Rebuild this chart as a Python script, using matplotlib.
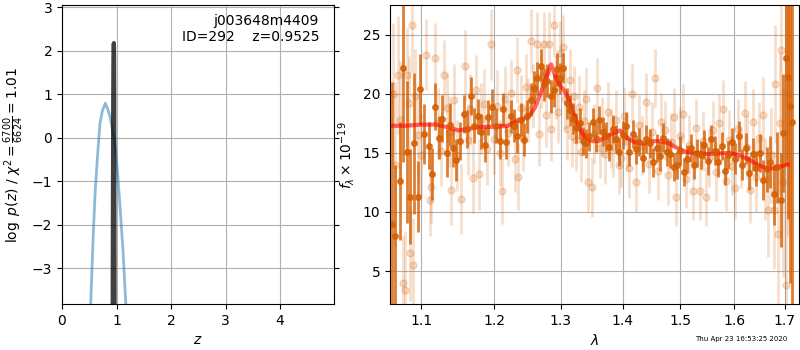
import numpy as np
import matplotlib
matplotlib.use('Agg')
import matplotlib.pyplot as plt
from matplotlib.ticker import NullLocator

# --- redshift probability (left panel) ---
z_coarse = [0.45, 0.527, 0.575, 0.61, 0.655, 0.697, 0.74, 0.795, 0.84,
            0.88, 0.925, 0.97, 1.02, 1.064, 1.12, 1.17, 1.25]
logp_coarse = [-6.0, -3.8, -2.17, -1.2, -0.35, 0.34, 0.62, 0.80, 0.66,
               0.49, 0.20, -0.11, -0.80, -1.57, -2.60, -3.80, -6.0]

z_fine = [0.928, 0.934, 0.939, 0.943, 0.947, 0.9525, 0.956, 0.959, 0.962,
          0.966]
logp_fine = [-4.5, -1.5, 0.8, 1.8, 2.15, 2.18, 1.9, 0.9, -1.5, -4.5]

# --- spectrum (right panel) ---
wave_dark = [1.062, 1.066, 1.072, 1.076, 1.081, 1.085, 1.090, 1.095, 1.098,
             1.104, 1.110, 1.114, 1.118, 1.124, 1.128, 1.134, 1.139, 1.143,
             1.147, 1.152, 1.157, 1.162, 1.167, 1.172, 1.177, 1.182, 1.187,
             1.192, 1.197, 1.203, 1.208, 1.213, 1.218, 1.224, 1.229, 1.234,
             1.239, 1.244, 1.249, 1.254, 1.259, 1.264, 1.269, 1.274, 1.279,
             1.284, 1.289, 1.294, 1.299, 1.304, 1.309, 1.314, 1.319, 1.324,
             1.330, 1.335, 1.340, 1.345, 1.351, 1.356, 1.361, 1.367, 1.372,
             1.378, 1.383, 1.389, 1.394, 1.400, 1.405, 1.411, 1.417, 1.422,
             1.428, 1.434, 1.440, 1.446, 1.452, 1.458, 1.464, 1.470, 1.476,
             1.482, 1.488, 1.494, 1.500, 1.506, 1.512, 1.519, 1.525, 1.531,
             1.538, 1.544, 1.550, 1.557, 1.563, 1.570, 1.576, 1.583, 1.589,
             1.596, 1.602, 1.609, 1.616, 1.622, 1.629, 1.636, 1.643, 1.650,
             1.657, 1.664, 1.671, 1.678, 1.685, 1.692, 1.697, 1.702, 1.706,
             1.710, 1.714]
flux_dark = [9.0, 8.0, 12.6, 22.2, 15.1, 11.3, 15.8, 11.3, 20.4,
             16.6, 15.6, 13.2, 18.9, 16.3, 17.9, 15.0, 17.4, 15.4,
             14.4, 16.0, 18.3, 17.0, 19.8, 17.3, 18.1, 16.8, 15.7,
             18.0, 18.9, 17.3, 16.0, 18.7, 15.9, 18.1, 17.3, 16.4,
             17.8, 16.1, 18.1, 19.5, 20.5, 21.3, 22.4, 20.8, 21.1,
             19.8, 20.3, 22.1, 21.3, 22.2, 19.2, 18.6, 17.9, 17.1,
             17.5, 16.0, 15.8, 16.4, 17.6, 16.3, 17.8, 16.8, 16.4,
             15.5, 17.0, 16.2, 15.1, 16.5, 17.3, 15.1, 16.6, 15.3,
             15.9, 14.6, 16.2, 15.8, 14.2, 15.4, 14.7, 16.3, 15.1,
             14.9, 13.8, 14.0, 15.2, 13.4, 14.5, 15.4, 14.0, 15.0,
             14.8, 15.7, 14.3, 16.2, 15.2, 14.2, 15.6, 13.5, 14.8,
             15.9, 14.5, 16.4, 14.0, 15.4, 13.3, 14.9, 13.7, 15.0,
             12.7, 13.6, 14.2, 11.5, 13.8, 11.0, 16.7, 23.0, 21.4,
             19.0, 17.6]
err_dark = [12.0, 6.0, 5.0, 8.0, 6.0, 4.0, 6.0, 3.0, 3.0,
            2.5, 2.0, 2.2, 2.0, 1.8, 2.0, 2.0, 1.8, 1.6,
            1.8, 1.6, 1.6, 1.6, 1.6, 1.5, 1.5, 1.5, 1.5,
            1.5, 1.5, 1.5, 1.5, 1.4, 1.4, 1.4, 1.4, 1.4,
            1.4, 1.4, 1.4, 1.4, 1.4, 1.4, 1.4, 1.4, 1.4,
            1.4, 1.4, 1.4, 1.3, 1.3, 1.3, 1.3, 1.3, 1.3,
            1.3, 1.2, 1.2, 1.2, 1.2, 1.2, 1.2, 1.2, 1.2,
            1.2, 1.2, 1.2, 1.2, 1.2, 1.2, 1.2, 1.2, 1.2,
            1.2, 1.2, 1.2, 1.2, 1.2, 1.2, 1.2, 1.2, 1.2,
            1.2, 1.2, 1.2, 1.2, 1.2, 1.2, 1.2, 1.2, 1.2,
            1.2, 1.2, 1.2, 1.2, 1.2, 1.2, 1.2, 1.2, 1.2,
            1.2, 1.3, 1.3, 1.3, 1.3, 1.4, 1.4, 1.5, 1.6,
            1.7, 1.9, 2.2, 2.6, 3.0, 4.0, 5.0, 9.0, 12.0,
            15.0, 20.0]

wave_light = [1.063, 1.066, 1.0696, 1.072, 1.076, 1.078, 1.081, 1.084, 1.0846,
              1.0877, 1.089, 1.092, 1.096, 1.100, 1.1066, 1.111, 1.113, 1.118,
              1.122, 1.126, 1.130, 1.134, 1.137, 1.140, 1.144, 1.148, 1.153,
              1.159, 1.163, 1.166, 1.170, 1.174, 1.178, 1.182, 1.186, 1.190,
              1.196, 1.200, 1.204, 1.208, 1.212, 1.216, 1.220, 1.225, 1.230,
              1.233, 1.235, 1.239, 1.243, 1.247, 1.250, 1.254, 1.258, 1.263,
              1.267, 1.270, 1.274, 1.277, 1.281, 1.285, 1.289, 1.292, 1.295,
              1.299, 1.303, 1.307, 1.310, 1.314, 1.318, 1.321, 1.324, 1.328,
              1.332, 1.336, 1.339, 1.343, 1.349, 1.353, 1.358, 1.362, 1.366,
              1.370, 1.375, 1.380, 1.384, 1.389, 1.393, 1.397, 1.402, 1.407,
              1.411, 1.416, 1.422, 1.427, 1.433, 1.439, 1.444, 1.450, 1.455,
              1.460, 1.466, 1.473, 1.478, 1.484, 1.488, 1.493, 1.499, 1.505,
              1.510, 1.516, 1.523, 1.529, 1.535, 1.541, 1.546, 1.552, 1.560,
              1.566, 1.572, 1.579, 1.585, 1.591, 1.596, 1.601, 1.607, 1.613,
              1.620, 1.625, 1.630, 1.636, 1.642, 1.648, 1.656, 1.661, 1.666,
              1.672, 1.679, 1.681, 1.686, 1.690, 1.693, 1.697, 1.702, 1.706]
flux_light = [20.0, 14.0, 21.6, 17.8, 4.0, 3.4, 21.6, 19.2, 6.5,
              25.8, 5.5, 19.8, 16.5, 14.8, 23.3, 11.0, 12.1, 23.0,
              17.5, 15.2, 21.6, 18.8, 16.8, 11.9, 19.5, 14.8, 11.1,
              22.4, 16.1, 18.7, 12.9, 20.3, 13.2, 17.9, 19.1, 15.3,
              24.2, 16.2, 19.0, 15.0, 11.8, 19.6, 16.7, 20.1, 14.5,
              22.0, 13.0, 18.8, 16.3, 20.6, 18.6, 24.5, 19.8, 24.2,
              16.6, 21.5, 24.2, 18.2, 24.2, 17.0, 25.8, 20.6, 18.5,
              23.5, 24.0, 19.6, 17.0, 21.2, 16.4, 19.8, 16.1, 18.9,
              15.1, 17.7, 19.6, 12.5, 12.1, 16.6, 20.5, 15.4, 17.2,
              14.9, 18.5, 16.2, 15.5, 17.8, 14.0, 14.6, 18.1, 16.0,
              13.7, 20.0, 12.5, 17.4, 15.6, 19.3, 14.1, 16.8, 21.3,
              13.5, 17.6, 16.9, 13.1, 15.9, 18.0, 11.3, 16.4, 18.3,
              12.8, 15.7, 11.8, 17.1, 11.8, 16.0, 11.3, 14.6, 16.9,
              13.4, 17.5, 18.7, 12.6, 16.1, 13.9, 12.0, 17.0, 14.6,
              18.4, 15.5, 11.9, 17.6, 13.0, 16.3, 18.2, 12.8, 10.2,
              14.8, 10.2, 20.8, 8.1, 17.5, 23.7, 12.5, 3.8, 20.0]
err_light = [6.0, 7.0, 5.0, 5.0, 4.0, 5.0, 4.0, 4.0, 4.0,
             4.0, 4.0, 4.0, 3.5, 3.5, 3.0, 3.0, 3.0, 3.0,
             3.0, 3.0, 3.0, 3.0, 3.0, 3.0, 3.0, 3.0, 3.0,
             3.0, 3.0, 3.0, 3.0, 3.0, 3.0, 3.0, 3.0, 3.0,
             3.0, 3.0, 3.0, 2.8, 2.8, 2.8, 2.8, 2.8, 2.8,
             2.8, 2.8, 2.8, 2.8, 2.8, 2.7, 2.7, 2.7, 2.7,
             2.7, 2.7, 2.7, 2.7, 2.7, 2.7, 2.7, 2.7, 2.7,
             2.7, 2.7, 2.6, 2.6, 2.6, 2.6, 2.6, 2.6, 2.6,
             2.6, 2.6, 2.6, 2.5, 2.5, 2.5, 2.5, 2.5, 2.5,
             2.5, 2.5, 2.5, 2.5, 2.5, 2.5, 2.5, 2.5, 2.5,
             2.5, 2.5, 2.5, 2.5, 2.5, 2.5, 2.5, 2.5, 2.5,
             2.5, 2.5, 2.5, 2.5, 2.5, 2.5, 2.5, 2.5, 2.5,
             2.5, 2.5, 2.5, 2.5, 2.5, 2.5, 2.5, 2.5, 2.5,
             2.5, 2.5, 2.5, 2.5, 2.5, 2.5, 2.6, 2.6, 2.6,
             2.7, 2.7, 2.8, 2.8, 3.0, 3.0, 3.2, 3.5, 4.0,
             4.0, 5.0, 5.0, 6.0, 6.0, 7.0, 8.0, 10.0, 12.0]

wave_model = [1.062, 1.08, 1.10, 1.12, 1.14, 1.15, 1.16, 1.18, 1.20, 1.22,
              1.235, 1.25, 1.26, 1.27, 1.278, 1.285, 1.29, 1.298, 1.305,
              1.312, 1.32, 1.33, 1.34, 1.35, 1.36, 1.37, 1.385, 1.395,
              1.405, 1.42, 1.435, 1.45, 1.465, 1.48, 1.495, 1.51, 1.53,
              1.55, 1.57, 1.59, 1.61, 1.63, 1.65, 1.665, 1.68, 1.695, 1.706]
flux_model = [17.3, 17.3, 17.4, 17.4, 17.1, 16.9, 17.0, 17.2, 17.2, 17.3,
              17.8, 18.0, 18.8, 20.2, 21.5, 22.5, 21.7, 20.8, 20.3,
              19.6, 18.3, 17.0, 16.2, 16.0, 16.0, 16.3, 16.7, 16.9,
              16.4, 15.9, 15.8, 16.0, 16.0, 15.8, 15.4, 15.1, 15.0,
              14.9, 14.95, 15.0, 14.8, 14.4, 13.9, 13.7, 13.7, 13.9, 14.0]

wave_ticks = [1.1, 1.2, 1.3, 1.4, 1.5, 1.6, 1.7]
g141_color = (0.8352941176470589, 0.3686274509803922, 0.0)

fig = plt.figure(figsize=(8, 3.5), dpi=100)

# left: log p(z)
ax = fig.add_axes([0.0775, 0.131, 0.34, 0.854])
ax.plot(z_coarse, logp_coarse, color='#1f77b4', alpha=0.5, lw=2)
ax.plot(z_fine, logp_fine, color='k', alpha=0.75, lw=3)
ax.set_xlim(0, 4.99)
ax.set_ylim(-3.82, 3.05)
ax.set_xticks([0, 1, 2, 3, 4])
ax.set_yticks([-3, -2, -1, 0, 1, 2, 3])
ax.yaxis.set_ticks_position('both')
ax.grid()
ax.set_xlabel(r'$z$')
ax.set_ylabel(r'$\log\ p(z)$' + ' / ' + r'$\chi^2=\frac{6700}{6624}=1.01$')
ax.text(0.945, 0.97, 'j003648m4409\nID=292    z=0.9525', ha='right', va='top',
        transform=ax.transAxes, fontsize=10)

# right: spectrum
ax2 = fig.add_axes([0.4875, 0.131, 0.511, 0.854])
ax2.errorbar(wave_light, flux_light, yerr=err_light, color=g141_color,
             marker='o', ms=5, linestyle='None', elinewidth=2, alpha=0.2)
ax2.errorbar(wave_dark, flux_dark, yerr=err_dark, color=g141_color,
             marker='o', ms=4, linestyle='None', elinewidth=2, alpha=0.8)
ax2.plot(wave_model, flux_model, color='r', alpha=0.6, lw=3)
ax2.set_xscale('log')
ax2.set_xlim(1.0594, 1.7288)
ax2.set_ylim(2.2, 27.5)
ax2.set_xticks(wave_ticks)
ax2.set_xticklabels([str(w) for w in wave_ticks])
ax2.xaxis.set_minor_locator(NullLocator())
ax2.set_yticks([5, 10, 15, 20, 25])
ax2.grid()
ax2.set_xlabel(r'$\lambda$')
ax2.set_ylabel(r'$f_\lambda\times10^{-19}$')

fig.text(0.984, 0.031, 'Thu Apr 23 16:53:25 2020', ha='right', va='center',
         fontsize=5)

fig.savefig('out.png', dpi=100)
